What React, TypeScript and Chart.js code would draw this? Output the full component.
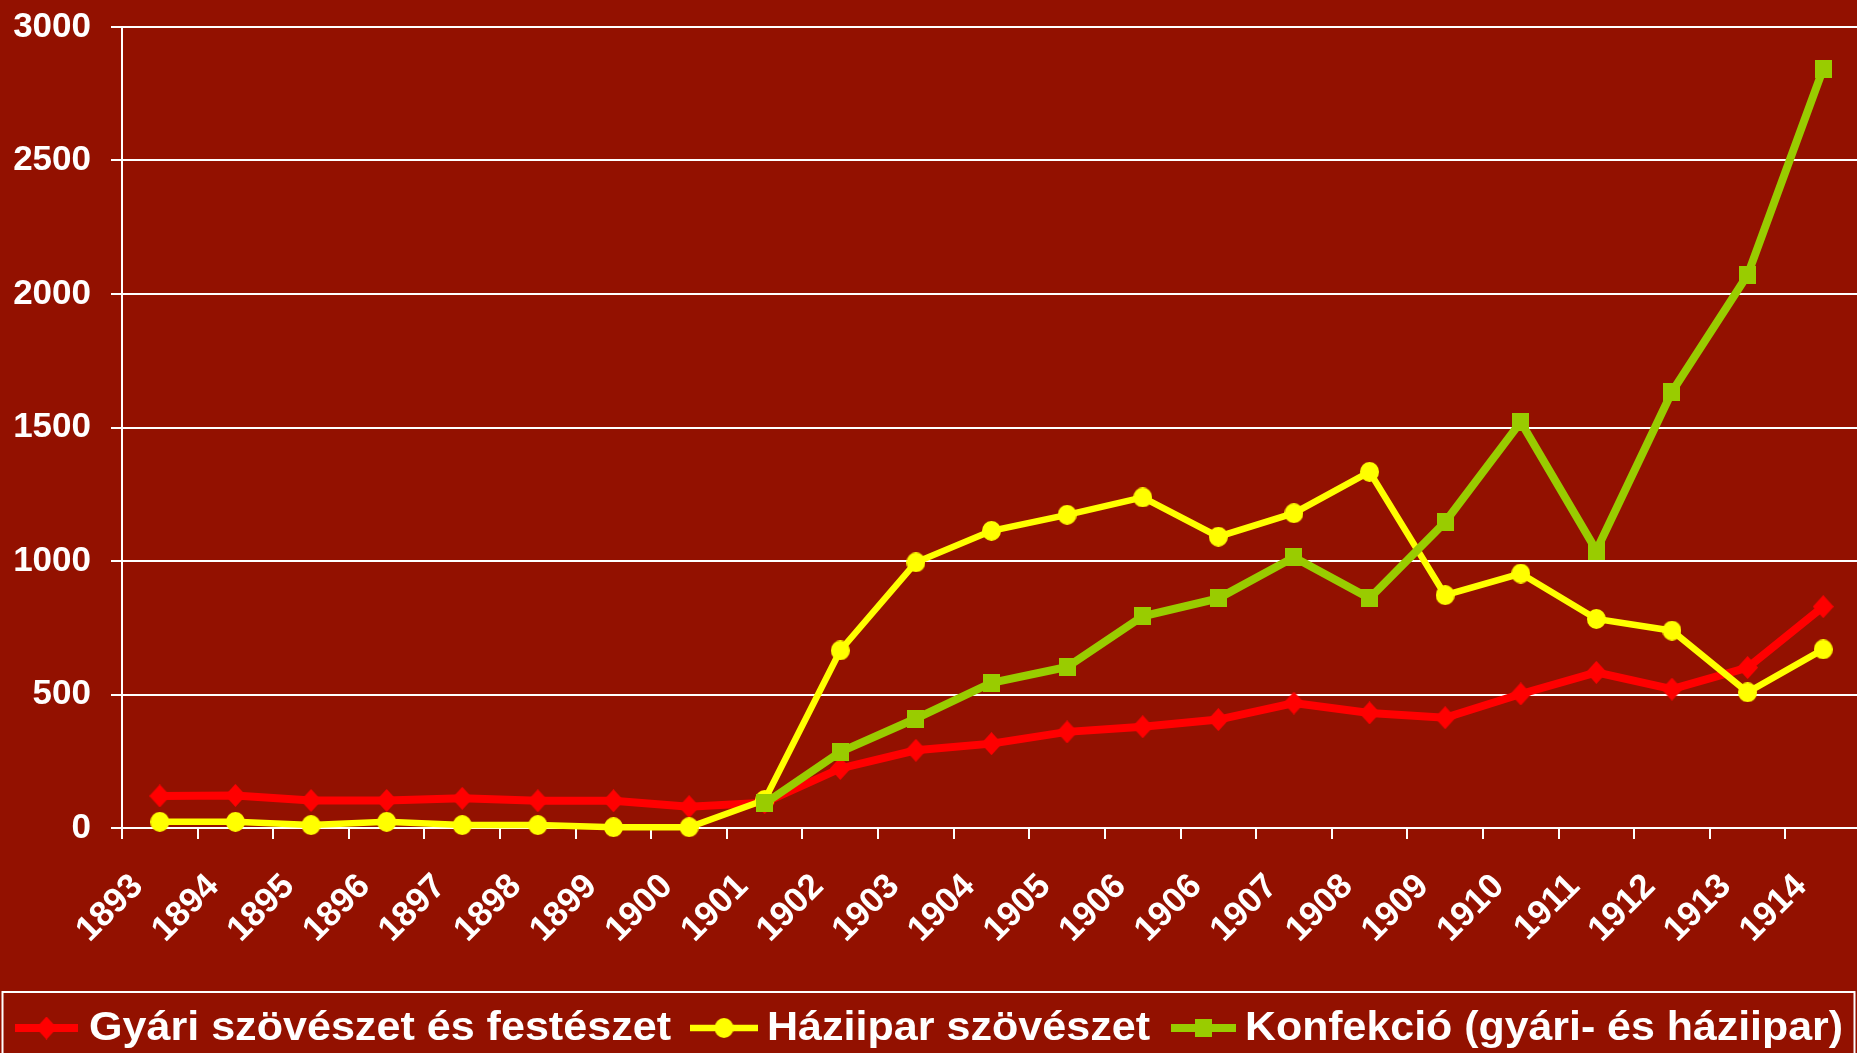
import React, { useEffect, useRef } from 'react';
import { Chart, registerables } from 'chart.js';

Chart.register(...registerables);

// ---------------- data ----------------
const YEARS = [
  '1893', '1894', '1895', '1896', '1897', '1898', '1899', '1900', '1901', '1902', '1903', '1904',
  '1905', '1906', '1906', '1907', '1908', '1909', '1910', '1911', '1912', '1913', '1914',
];

const GYARI = [120, 122, 103, 103, 111, 102, 102, 80, 95, 223, 291, 316, 360, 379, 406, 468, 431, 413, 502, 583, 520, 601, 829];

const HAZIIPAR = [23, 23, 11, 23, 11, 11, 3, 3, 105, 665, 995, 1113, 1173, 1238, 1091, 1179, 1334, 872, 953, 783, 739, 508, 669];

const KONFEKCIO = [null, null, null, null, null, null, null, null, 92, 285, 410, 544, 603, 793, 860, 1014, 860, 1146, 1521, 1039, 1634, 2071, 2843];

const SERIES_NAMES = ['Gyári szövészet és festészet', 'Háziipar szövészet', 'Konfekció (gyári- és háziipar)'];

const Y_MIN = 0;
const Y_MAX = 3000;
const Y_STEP = 500;

// ---------------- styles ----------------
const BG = '#931100';
const RED = '#FF0000';
const YELLOW = '#FFFF00';
const GREEN = '#99CC00';
const WHITE = '#FFFFFF';
const FONT = "'Liberation Sans', Arial, Helvetica, sans-serif";

const CANVAS_W = 1861;
const CANVAS_H = 1053;

const LEGEND_BOX = { x: 2.5, y: 992, w: 1852, h: 140 };
const LEGEND_LINE_Y = 1028;
const LEGEND_BASELINE = 1040;
const LEGEND_LAYOUT = [
  { from: 15, to: 78, textX: 89, textW: 582 },
  { from: 690, to: 758, textX: 767, textW: 383 },
  { from: 1171, to: 1236, textX: 1245, textW: 598 },
];

function makeMarker(kind: string, color: string): HTMLCanvasElement {
  const c = document.createElement('canvas');
  let w = 21;
  let h = 23;
  if (kind === 'circle') { w = 19; h = 20; }
  if (kind === 'square') { w = 17; h = 18; }
  c.width = w;
  c.height = h;
  const ctx = c.getContext('2d')!;
  ctx.fillStyle = color;
  ctx.beginPath();
  if (kind === 'diamond') {
    ctx.moveTo(w / 2, 0);
    ctx.lineTo(w, h / 2);
    ctx.lineTo(w / 2, h);
    ctx.lineTo(0, h / 2);
    ctx.closePath();
  } else if (kind === 'circle') {
    ctx.ellipse(w / 2, h / 2, w / 2, h / 2, 0, 0, Math.PI * 2);
  } else {
    ctx.rect(0, 0, w, h);
  }
  ctx.fill();
  return c;
}

export default function App() {
  const ref = useRef<HTMLCanvasElement | null>(null);

  useEffect(() => {
    if (!ref.current) return;
    Chart.defaults.font.family = FONT;

    const markers = [
      makeMarker('diamond', RED),
      makeMarker('circle', YELLOW),
      makeMarker('square', GREEN),
    ];

    const bgPlugin = {
      id: 'bgFill',
      beforeDraw(chart: any) {
        const ctx = chart.ctx;
        ctx.save();
        ctx.fillStyle = BG;
        ctx.fillRect(0, 0, chart.width, chart.height);
        ctx.restore();
      },
    };

    const legendPlugin = {
      id: 'boxLegend',
      afterDraw(chart: any) {
        const ctx = chart.ctx as CanvasRenderingContext2D;
        ctx.save();
        ctx.strokeStyle = WHITE;
        ctx.lineWidth = 2;
        ctx.strokeRect(LEGEND_BOX.x, LEGEND_BOX.y, LEGEND_BOX.w, LEGEND_BOX.h);
        chart.data.datasets.forEach((ds: any, i: number) => {
          const L = LEGEND_LAYOUT[i];
          ctx.strokeStyle = ds.borderColor;
          ctx.lineWidth = ds.borderWidth;
          ctx.beginPath();
          ctx.moveTo(L.from, LEGEND_LINE_Y);
          ctx.lineTo(L.to, LEGEND_LINE_Y);
          ctx.stroke();
          const m = markers[i];
          ctx.drawImage(m, (L.from + L.to) / 2 - m.width / 2, LEGEND_LINE_Y - m.height / 2);
          ctx.font = `bold 40px ${FONT}`;
          ctx.fillStyle = WHITE;
          ctx.textBaseline = 'alphabetic';
          ctx.textAlign = 'left';
          const mw = ctx.measureText(ds.label).width;
          ctx.save();
          ctx.translate(L.textX, LEGEND_BASELINE);
          ctx.scale(L.textW / mw, 1);
          ctx.fillText(ds.label, 0, 0);
          ctx.restore();
        });
        ctx.restore();
      },
    };

    const chart = new Chart(ref.current, {
      type: 'line',
      data: {
        labels: YEARS,
        datasets: [
          {
            label: SERIES_NAMES[0],
            data: GYARI,
            borderColor: RED,
            backgroundColor: RED,
            borderWidth: 8,
            pointStyle: markers[0],
            pointRadius: 10,
            order: 2,
            clip: false,
          },
          {
            label: SERIES_NAMES[1],
            data: HAZIIPAR,
            borderColor: YELLOW,
            backgroundColor: YELLOW,
            borderWidth: 6.5,
            pointStyle: markers[1],
            pointRadius: 9,
            order: 1,
            clip: false,
          },
          {
            label: SERIES_NAMES[2],
            data: KONFEKCIO,
            borderColor: GREEN,
            backgroundColor: GREEN,
            borderWidth: 8,
            pointStyle: markers[2],
            pointRadius: 9,
            order: 0,
            clip: false,
          },
        ] as any,
      },
      options: {
        animation: false,
        responsive: false,
        devicePixelRatio: 1,
        layout: { autoPadding: false, padding: { top: 27, left: 0, right: 0, bottom: 63 } },
        plugins: {
          legend: { display: false },
          tooltip: { enabled: false },
        },
        scales: {
          x: {
            offset: true,
            grid: {
              display: true,
              drawOnChartArea: false,
              drawTicks: true,
              tickLength: 11,
              color: WHITE,
              lineWidth: 2,
              offset: true,
            },
            border: { display: true, color: WHITE, width: 2 },
            ticks: {
              color: WHITE,
              font: { family: FONT, size: 35, weight: 'bold' },
              maxRotation: 45,
              minRotation: 45,
              autoSkip: false,
              padding: 27,
              labelOffset: -22,
            },
            afterFit: (s: any) => {
              s.height = 162;
              s.paddingLeft = 0;
              s.paddingRight = 0;
            },
          },
          y: {
            min: Y_MIN,
            max: Y_MAX,
            ticks: {
              stepSize: Y_STEP,
              color: WHITE,
              font: { family: FONT, size: 35, weight: 'bold' },
              padding: 20,
              callback: (v: any) => String(v),
            },
            grid: { color: WHITE, lineWidth: 2, tickLength: 11, drawTicks: true },
            border: { display: true, color: WHITE, width: 2 },
            afterFit: (s: any) => {
              s.width = 122;
              s.paddingTop = 0;
              s.paddingBottom = 0;
            },
          },
        },
      } as any,
      plugins: [bgPlugin, legendPlugin],
    });

    return () => chart.destroy();
  }, []);

  return (
    <div
      style={{
        position: 'fixed',
        left: 0,
        top: 0,
        width: 1857,
        height: 1053,
        overflow: 'hidden',
        background: BG,
      }}
    >
      <canvas ref={ref} width={CANVAS_W} height={CANVAS_H} style={{ display: 'block', width: CANVAS_W, height: CANVAS_H }} />
    </div>
  );
}
